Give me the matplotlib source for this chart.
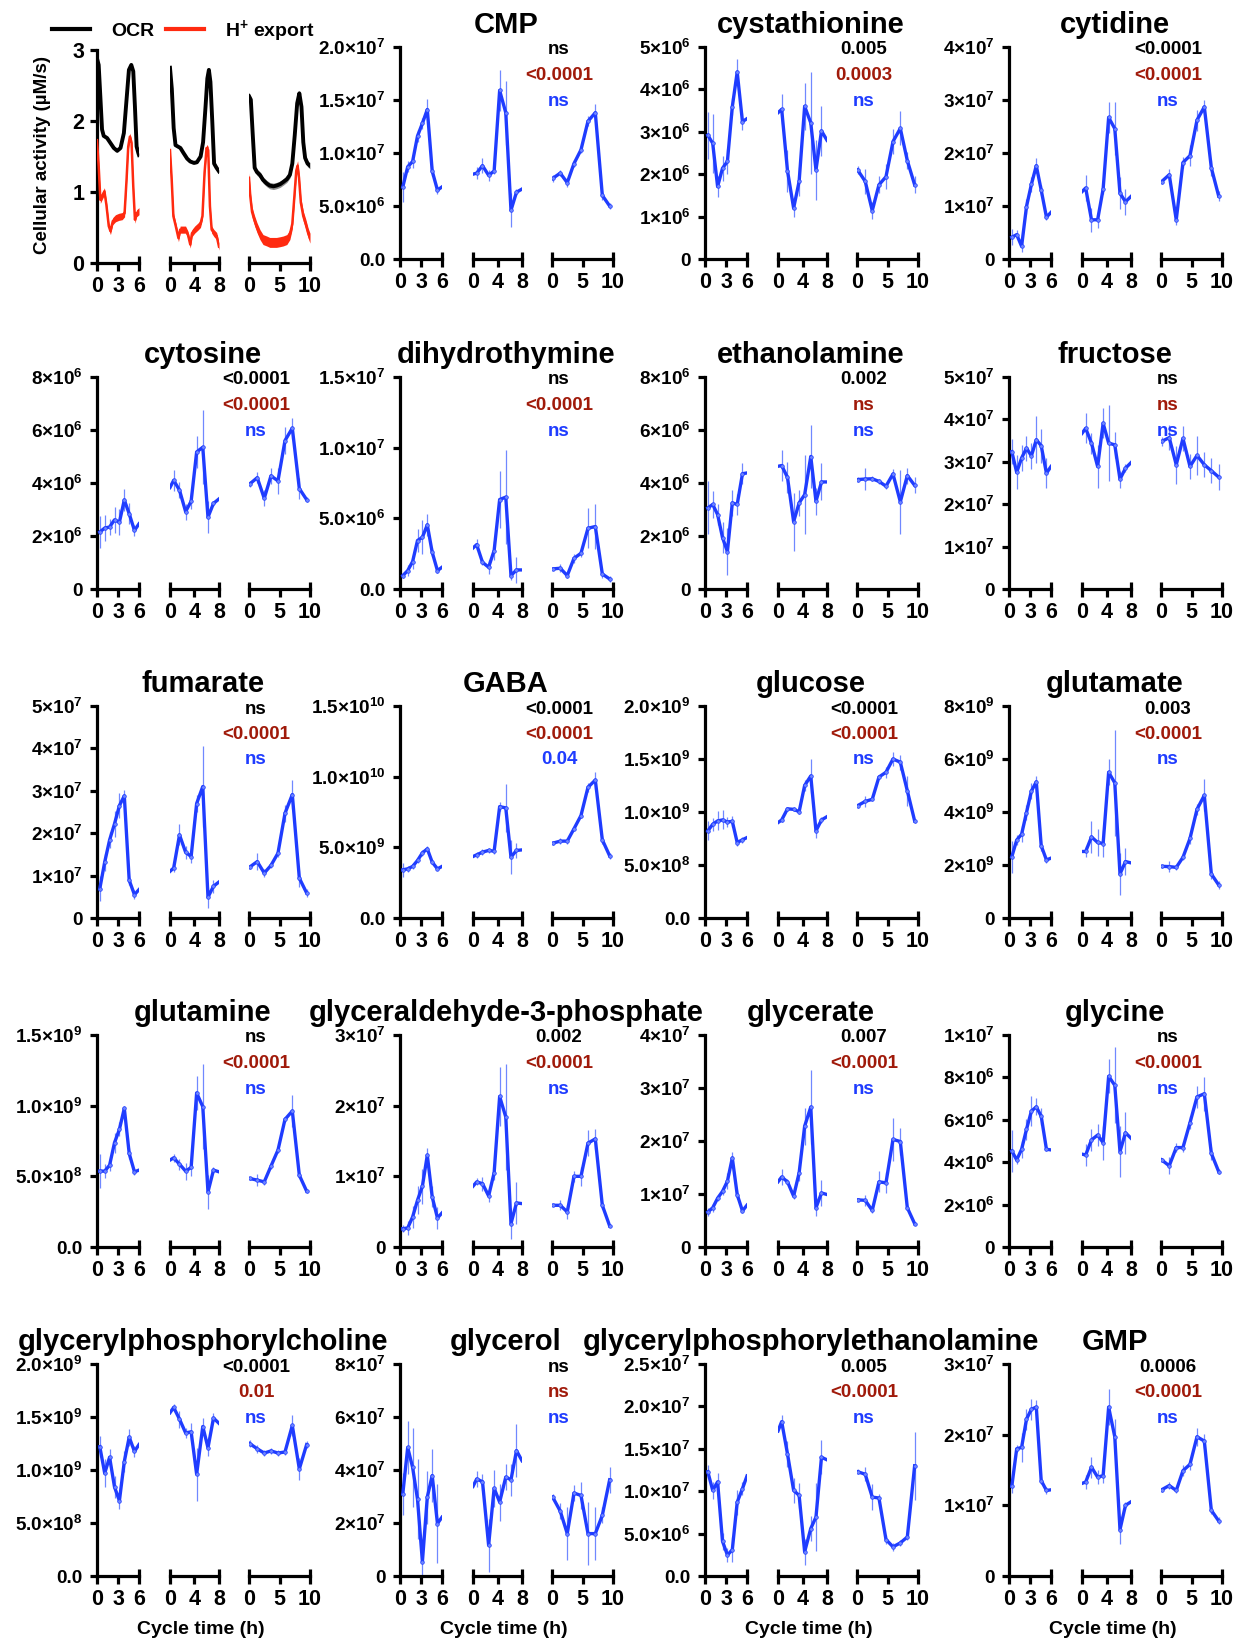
import numpy as np
import matplotlib
matplotlib.use('Agg')
import matplotlib.pyplot as plt
from matplotlib.lines import Line2D
from matplotlib.ticker import FixedLocator

plt.rcParams['font.family'] = ['Liberation Sans', 'DejaVu Sans']
plt.rcParams['font.weight'] = 'bold'
plt.rcParams['mathtext.fontset'] = 'custom'
plt.rcParams['mathtext.rm'] = 'Liberation Sans:bold'
plt.rcParams['mathtext.it'] = 'Liberation Sans:bold'
plt.rcParams['mathtext.bf'] = 'Liberation Sans:bold'
plt.rcParams['mathtext.default'] = 'rm'

# ---------------- data ----------------
PERIODS = [6, 8, 10]
# sampling times (h) within each cycle length
T6 = [0.4, 1.1, 1.8, 2.5, 3.2, 3.9, 4.6, 5.35, 6.0]
T8 = [0, 0.6, 1.55, 2.55, 3.45, 4.35, 5.35, 6.2, 7.1, 8.0]
T10 = [0.1, 1.35, 2.5, 3.6, 4.75, 5.9, 7.1, 8.25, 9.45]

# OCR / H+ export traces (uM/s)
OCR_T6 = [0, 0.24, 0.48, 0.72, 0.96, 1.44, 1.92, 2.4, 2.88, 3.36, 3.84, 4.22, 4.56, 4.9, 5.18, 5.42, 5.66, 5.9, 6.0]
OCR_6 = [2.88, 2.79, 2.34, 1.88, 1.79, 1.76, 1.69, 1.62, 1.58, 1.62, 1.83, 2.30, 2.72, 2.79, 2.70, 2.20, 1.64, 1.55, 1.52]
OCR_T8 = [0, 0.3, 0.6, 0.9, 1.3, 1.7, 2.2, 2.8, 3.3, 3.9, 4.4, 5.0, 5.4, 5.8, 6.1, 6.35, 6.6, 6.9, 7.2, 7.6, 8.0]
OCR_8 = [2.75, 2.45, 1.9, 1.66, 1.64, 1.62, 1.55, 1.47, 1.43, 1.41, 1.42, 1.5, 1.7, 2.2, 2.6, 2.72, 2.55, 2.0, 1.4, 1.34, 1.29]
OCR_T10 = [0, 0.3, 0.6, 0.93, 1.3, 1.8, 2.3, 2.9, 3.4, 4.0, 4.5, 5.1, 5.6, 6.2, 6.7, 7.1, 7.5, 7.9, 8.25, 8.6, 8.9, 9.2, 9.6, 10.0]
OCR_10 = [2.35, 2.3, 1.83, 1.34, 1.28, 1.24, 1.17, 1.12, 1.09, 1.08, 1.09, 1.11, 1.14, 1.18, 1.24, 1.4, 1.8, 2.25, 2.39, 2.2, 1.7, 1.48, 1.40, 1.37]
OCR_SEM = [0.02, 0.02, 0.045]

HEX_T6 = [0, 0.24, 0.48, 0.72, 1.06, 1.34, 1.68, 1.92, 2.26, 2.64, 3.12, 3.6, 3.94, 4.22, 4.46, 4.7, 4.94, 5.18, 5.42, 5.66, 6.0]
HEX_6 = [1.73, 1.36, 0.89, 0.94, 1.01, 0.82, 0.52, 0.45, 0.59, 0.63, 0.65, 0.66, 0.70, 1.17, 1.64, 1.78, 1.69, 1.08, 0.61, 0.70, 0.73]
HEX_T8 = [0, 0.28, 0.55, 0.94, 1.38, 1.66, 2.1, 2.54, 2.93, 3.31, 3.59, 4.03, 4.53, 4.97, 5.3, 5.64, 5.97, 6.24, 6.52, 6.8, 7.18, 7.62, 8.0]
HEX_8 = [1.59, 1.17, 0.66, 0.52, 0.35, 0.47, 0.47, 0.47, 0.40, 0.26, 0.42, 0.47, 0.51, 0.55, 0.66, 1.27, 1.62, 1.59, 0.80, 0.47, 0.42, 0.38, 0.23]
HEX_T10 = [0, 0.2, 0.5, 0.9, 1.3, 1.8, 2.3, 2.9, 3.4, 4.0, 4.5, 5.1, 5.6, 6.2, 6.7, 7.1, 7.45, 7.75, 7.97, 8.2, 8.5, 8.9, 9.3, 9.7, 10.0]
HEX_10 = [1.2, 0.95, 0.72, 0.6, 0.5, 0.4, 0.33, 0.31, 0.29, 0.29, 0.29, 0.3, 0.31, 0.33, 0.4, 0.55, 0.95, 1.3, 1.37, 1.2, 0.85, 0.66, 0.55, 0.42, 0.35]
HEX_SPREAD = [0.05, 0.05, 0.07]

# metabolites: mean / sem for the 6 h, 8 h and 10 h cycles (in UNIT)
CMP_M = ([6.8, 8.7, 9.2, 11.6, 12.8, 14.1, 8.3, 6.5, 6.8],
         [8.0, 8.1, 8.8, 7.9, 8.3, 15.9, 13.8, 4.6, 6.3, 6.6],
         [7.6, 8.1, 7.2, 9.0, 10.3, 13.0, 13.8, 6.0, 5.0])
CMP_E = ([1.4, 0.5, 0.6, 0.6, 0.5, 1.0, 0.5, 0.4, 0],
         [0, 0.6, 0.7, 0.5, 0.3, 1.9, 3.0, 1.6, 0.3, 0],
         [0.3, 0.3, 0.4, 0.3, 0.3, 0.5, 0.8, 0.4, 0.3])
CYSTA_M = ([2.92, 2.73, 1.71, 2.14, 2.30, 3.59, 4.41, 3.24, 3.31],
           [3.45, 3.53, 2.08, 1.20, 1.83, 3.60, 3.21, 2.10, 3.02, 2.80],
           [2.10, 1.83, 1.14, 1.75, 1.94, 2.77, 3.08, 2.32, 1.75])
CYSTA_E = ([0.55, 0.7, 0.25, 0.3, 0.3, 0.2, 0.3, 0.2, 0],
           [0, 0.35, 0.5, 0.2, 0.35, 0.55, 1.2, 0.7, 0.6, 0],
           [0.1, 0.3, 0.2, 0.2, 0.3, 0.3, 0.4, 0.2, 0.2])
CYTID_M = ([4.1, 4.6, 2.4, 9.9, 14.1, 17.6, 13.0, 7.9, 8.8],
           [12.7, 13.4, 7.4, 7.4, 13.2, 26.7, 24.6, 12.4, 10.8, 11.8],
           [14.6, 15.9, 7.4, 18.2, 19.5, 26.2, 28.7, 17.2, 11.9])
CYTID_E = ([1.5, 0.8, 1.0, 1.5, 1.4, 1.4, 1.0, 0.6, 0],
           [0, 2.5, 2.3, 1.5, 1.0, 3.0, 5.0, 3.0, 2.5, 0],
           [0.5, 1.0, 1.0, 1.0, 2.0, 2.0, 1.3, 1.5, 1.0])
CYTOS_M = ([2.15, 2.30, 2.34, 2.61, 2.52, 3.36, 2.84, 2.21, 2.46],
           [3.83, 4.10, 3.73, 2.92, 3.31, 5.17, 5.35, 2.71, 3.23, 3.40],
           [3.96, 4.20, 3.42, 4.27, 4.08, 5.60, 6.07, 3.79, 3.37])
CYTOS_E = ([0.6, 0.5, 0.3, 0.5, 0.5, 0.4, 0.4, 0.2, 0],
           [0, 0.4, 0.3, 0.3, 0.3, 0.6, 1.4, 0.6, 0.1, 0],
           [0.1, 0.2, 0.3, 0.3, 0.5, 0.5, 0.4, 0.4, 0.1])
DHT_M = ([0.95, 1.30, 1.94, 3.43, 3.66, 4.54, 2.60, 1.30, 1.54],
         [2.90, 3.14, 1.89, 1.54, 2.72, 6.33, 6.50, 0.95, 1.35, 1.35],
         [1.42, 1.47, 0.95, 2.17, 2.53, 4.30, 4.42, 1.06, 0.71])
DHT_E = ([0.2, 0.4, 0.5, 0.8, 1.2, 0.8, 0.3, 0.2, 0],
         [0, 0.4, 0.2, 0.5, 0.7, 2.0, 3.3, 0.3, 0.9, 0],
         [0.1, 0.3, 0.2, 0.3, 0.3, 1.4, 1.6, 0.3, 0.2])
ETN_M = ([3.06, 3.19, 2.81, 1.94, 1.41, 3.25, 3.19, 4.35, 4.38],
         [4.63, 4.66, 4.21, 2.54, 3.25, 3.56, 5.00, 3.31, 4.04, 4.04],
         [4.13, 4.15, 4.16, 4.06, 3.88, 4.34, 3.29, 4.28, 3.91])
ETN_E = ([1.0, 0.5, 0.4, 0.6, 0.9, 0.5, 0.4, 0.4, 0],
         [0, 0.6, 0.6, 1.1, 0.5, 1.5, 1.2, 0.5, 0.7, 0],
         [0.1, 0.4, 0.1, 0.1, 0.1, 0.2, 1.2, 0.3, 0.3])
FRU_M = ([3.24, 2.75, 3.09, 3.32, 3.14, 3.52, 3.38, 2.73, 2.89],
         [3.67, 3.79, 3.44, 2.89, 3.91, 3.44, 3.40, 2.59, 2.85, 2.98],
         [3.48, 3.57, 2.93, 3.55, 2.89, 3.15, 2.93, 2.79, 2.64])
FRU_E = ([0.3, 0.4, 0.3, 0.3, 0.3, 0.55, 0.4, 0.35, 0],
         [0, 0.35, 0.25, 0.5, 0.35, 0.9, 0.3, 0.2, 0.1, 0],
         [0.1, 0.3, 0.45, 0.3, 0.3, 0.45, 0.3, 0.3, 0.3])
FUM_M = ([0.69, 1.32, 1.84, 2.22, 2.65, 2.88, 0.89, 0.55, 0.67],
         [1.10, 1.18, 1.96, 1.55, 1.45, 2.70, 3.10, 0.49, 0.75, 0.85],
         [1.20, 1.33, 1.06, 1.24, 1.53, 2.47, 2.91, 0.94, 0.59])
FUM_E = ([0.3, 0.2, 0.2, 0.3, 0.3, 0.15, 0.1, 0.1, 0],
         [0, 0.1, 0.25, 0.15, 0.15, 0.2, 0.95, 0.25, 0.15, 0],
         [0.05, 0.2, 0.1, 0.05, 0.1, 0.2, 0.35, 0.2, 0.1])
GABA_M = ([3.41, 3.48, 3.65, 4.07, 4.61, 4.89, 3.95, 3.48, 3.65],
          [4.35, 4.47, 4.66, 4.78, 4.73, 7.88, 7.79, 4.31, 4.78, 4.82],
          [5.29, 5.44, 5.44, 6.31, 7.25, 9.25, 9.76, 5.53, 4.40])
GABA_E = ([0.5, 0.2, 0.2, 0.2, 0.2, 0.2, 0.1, 0.1, 0],
          [0, 0.2, 0.2, 0.2, 0.2, 0.3, 1.7, 1.2, 0.5, 0],
          [0.1, 0.2, 0.2, 0.1, 0.2, 0.3, 0.6, 0.3, 0.2])
GLC_M = ([8.22, 8.84, 9.16, 9.25, 9.06, 9.12, 7.12, 7.38, 7.59],
         [9.0, 9.25, 10.3, 10.25, 10.03, 12.5, 13.4, 8.22, 9.25, 9.56],
         [10.6, 11.0, 11.2, 13.3, 13.75, 15.0, 14.7, 12.0, 9.16])
GLC_E = ([0.9, 0.6, 0.9, 0.9, 0.5, 0.5, 0.3, 0.3, 0],
         [0, 0.2, 0.2, 0.2, 0.2, 0.5, 1.6, 0.7, 0.3, 0],
         [0.2, 0.5, 0.2, 0.2, 0.5, 0.7, 0.7, 1.4, 0.2])
GLU_M = ([2.31, 2.94, 3.16, 3.98, 4.79, 5.14, 2.73, 2.19, 2.26],
         [2.51, 2.51, 3.06, 2.85, 2.81, 5.50, 5.10, 1.66, 2.13, 2.08],
         [1.95, 1.94, 1.91, 2.29, 3.00, 4.10, 4.63, 1.66, 1.25])
GLU_E = ([0.6, 0.2, 0.3, 0.3, 0.3, 0.2, 0.2, 0.1, 0],
         [0, 0.2, 0.6, 0.5, 0.5, 0.5, 2.0, 0.8, 0.5, 0],
         [0.05, 0.2, 0.1, 0.1, 0.2, 0.2, 0.6, 0.2, 0.15])
GLN_M = ([5.37, 5.37, 5.79, 7.38, 8.32, 9.81, 6.62, 5.32, 5.44],
         [6.15, 6.31, 5.86, 5.37, 5.63, 10.9, 9.93, 3.90, 5.44, 5.32],
         [4.85, 4.73, 4.61, 5.72, 6.86, 9.03, 9.62, 5.08, 3.95])
GLN_E = ([1.2, 0.5, 0.4, 0.7, 0.5, 0.2, 0.4, 0.2, 0],
         [0, 0.3, 0.4, 0.6, 0.6, 1.2, 3.0, 1.2, 0.2, 0],
         [0.1, 0.4, 0.2, 0.2, 0.2, 0.2, 1.1, 0.2, 0.1])
G3P_M = ([2.6, 2.69, 4.25, 6.61, 8.6, 13.0, 7.09, 4.11, 4.82],
         [8.6, 9.21, 8.97, 7.23, 10.5, 21.3, 18.4, 3.31, 6.24, 6.14],
         [5.9, 5.9, 4.96, 10.0, 10.0, 14.7, 15.3, 5.9, 2.98])
G3P_E = ([0.5, 1.0, 1.5, 2.0, 2.5, 1.0, 1.5, 1.5, 0],
         [0, 0.5, 1.0, 0.8, 1.0, 4.2, 7.5, 2.2, 3.0, 0],
         [0.1, 0.7, 1.0, 0.8, 1.3, 1.8, 1.4, 0.5, 0.2])
GLYA_M = ([6.6, 7.4, 9.2, 10.5, 12.4, 16.8, 9.9, 6.8, 7.9],
          [12.3, 13.2, 12.3, 9.6, 14.0, 22.8, 26.4, 7.4, 10.2, 9.9],
          [8.9, 8.8, 6.9, 12.3, 12.1, 20.3, 19.9, 7.4, 4.4])
GLYA_E = ([0.8, 0.8, 0.6, 0.6, 1.5, 1.2, 0.8, 0.4, 0],
          [0, 1.5, 0.5, 0.5, 1.5, 3.5, 7.0, 1.5, 2.5, 0],
          [0.3, 1.0, 0.5, 2.0, 2.0, 4.0, 2.5, 0.3, 0.3])
GLY_M = ([4.53, 4.11, 4.61, 5.55, 6.41, 6.61, 6.17, 4.61, 4.58],
         [4.38, 4.34, 5.05, 5.28, 4.92, 8.05, 7.63, 4.50, 5.39, 5.13],
         [4.11, 3.83, 4.69, 4.69, 5.86, 7.08, 7.23, 4.42, 3.56])
GLY_E = ([1.0, 0.2, 0.4, 0.5, 0.7, 0.4, 0.4, 0.1, 0],
         [0, 0.5, 0.5, 0.5, 0.8, 0.8, 1.8, 1.2, 1.0, 0],
         [0.1, 0.4, 0.2, 0.2, 0.3, 0.5, 0.8, 0.3, 0.1])
GPC_M = ([12.2, 9.7, 11.2, 8.4, 7.1, 10.8, 13.1, 11.75, 12.4],
         [15.4, 15.9, 14.8, 13.5, 13.6, 9.6, 14.1, 12.1, 14.9, 14.4],
         [12.5, 12.0, 11.6, 11.8, 11.6, 11.7, 14.2, 10.1, 12.4])
GPC_E = ([1.0, 1.3, 0.8, 1.0, 0.8, 1.0, 0.8, 0.5, 0],
         [0, 0.3, 0.8, 0.5, 0.8, 2.5, 0.8, 0.8, 0.5, 0],
         [0.3, 0.4, 0.3, 0.3, 0.3, 0.3, 1.0, 1.0, 0.3])
GOL_M = ([3.1, 4.85, 4.1, 2.9, 0.54, 2.98, 3.79, 1.98, 2.22],
         [3.38, 3.66, 3.56, 1.16, 3.31, 2.79, 3.73, 3.63, 4.73, 4.35],
         [2.98, 2.45, 1.6, 3.13, 3.04, 1.6, 1.6, 2.29, 3.63])
GOL_E = ([0.8, 1.0, 1.5, 1.5, 0.6, 1.0, 1.0, 1.5, 0],
         [0, 0.3, 0.3, 1.0, 0.7, 0.7, 0.5, 0.6, 1.0, 0],
         [0.1, 0.3, 1.0, 0.3, 0.5, 1.2, 1.0, 0.3, 0.5])
GPE_M = ([12.3, 10.1, 11.1, 4.1, 2.46, 3.1, 8.7, 10.3, 11.8],
         [17.1, 18.2, 14.4, 10.1, 9.5, 2.85, 5.6, 6.95, 14.0, 13.7],
         [12.3, 12.0, 9.3, 9.2, 4.3, 3.44, 3.9, 4.6, 13.0])
GPE_E = ([0.8, 1.0, 1.0, 1.0, 0.8, 1.5, 1.5, 0.8, 0],
         [0, 0.8, 1.5, 1.5, 1.5, 1.5, 1.5, 4.0, 2.0, 0],
         [0.3, 0.8, 1.5, 0.5, 0.5, 0.5, 0.4, 0.4, 4.0])
GMP_M = ([12.7, 18.0, 18.2, 22.2, 23.6, 23.9, 13.5, 12.1, 12.2],
         [13.1, 13.3, 15.4, 14.0, 14.2, 23.9, 19.7, 6.56, 10.0, 10.5],
         [12.2, 12.8, 12.1, 14.9, 15.8, 19.7, 19.1, 9.3, 7.8])
GMP_E = ([1.0, 0.5, 2.0, 1.5, 1.5, 1.0, 0.5, 0.5, 0],
         [0, 1.0, 1.5, 1.0, 1.0, 2.5, 2.5, 2.0, 0.5, 0],
         [0.3, 0.5, 0.3, 0.8, 0.8, 1.3, 1.0, 0.5, 0.5])

NAMES = ['CMP', 'cystathionine', 'cytidine', 'cytosine', 'dihydrothymine', 'ethanolamine',
         'fructose', 'fumarate', 'GABA', 'glucose', 'glutamate', 'glutamine',
         'glyceraldehyde-3-phosphate', 'glycerate', 'glycine', 'glycerylphosphorylcholine',
         'glycerol', 'glycerylphosphorylethanolamine', 'GMP']
UNITS = [1e6, 1e6, 1e6, 1e6, 1e6, 1e6, 1e7, 1e7, 1e9, 1e8, 1e9, 1e8,
         1e6, 1e6, 1e6, 1e8, 1e7, 1e6, 1e6]
MEANS = [CMP_M, CYSTA_M, CYTID_M, CYTOS_M, DHT_M, ETN_M, FRU_M, FUM_M, GABA_M, GLC_M,
         GLU_M, GLN_M, G3P_M, GLYA_M, GLY_M, GPC_M, GOL_M, GPE_M, GMP_M]
SEMS = [CMP_E, CYSTA_E, CYTID_E, CYTOS_E, DHT_E, ETN_E, FRU_E, FUM_E, GABA_E, GLC_E,
        GLU_E, GLN_E, G3P_E, GLYA_E, GLY_E, GPC_E, GOL_E, GPE_E, GMP_E]
Y_TOP = [2.0e7, 5e6, 4e7, 8e6, 1.5e7, 8e6, 5e7, 5e7, 1.5e10, 2.0e9, 8e9, 1.5e9,
         3e7, 4e7, 1e7, 2.0e9, 8e7, 2.5e7, 3e7]
Y_STEP = [5e6, 1e6, 1e7, 2e6, 5e6, 2e6, 1e7, 1e7, 5e9, 5e8, 2e9, 5e8,
          1e7, 1e7, 2e6, 5e8, 2e7, 5e6, 1e7]
Y_DEC = [1, 0, 0, 0, 1, 0, 0, 0, 1, 1, 0, 1, 0, 0, 0, 1, 0, 1, 0]
P_OCR = ['ns', '0.005', '<0.0001', '<0.0001', 'ns', '0.002', 'ns', 'ns', '<0.0001', '<0.0001',
         '0.003', 'ns', '0.002', '0.007', 'ns', '<0.0001', 'ns', '0.005', '0.0006']
P_HEX = ['<0.0001', '0.0003', '<0.0001', '<0.0001', '<0.0001', 'ns', 'ns', '<0.0001', '<0.0001',
         '<0.0001', '<0.0001', '<0.0001', '<0.0001', '<0.0001', '<0.0001', '0.01', 'ns',
         '<0.0001', '<0.0001']
P_MET = ['ns', 'ns', 'ns', 'ns', 'ns', 'ns', 'ns', 'ns', '0.04', 'ns',
         'ns', 'ns', 'ns', 'ns', 'ns', 'ns', 'ns', 'ns', 'ns']

# ---------------- layout ----------------
W, H = 1237, 1642
fig = plt.figure(figsize=(W / 100, H / 100), dpi=100)

COL_X = [97, 400, 705, 1009]
ROW_BOTTOM = [259, 589, 918, 1247, 1576]
AX_H = 212
SEG_L = [0, 73, 152]
SEG_R = [42, 122, 213]
LW = 2.3
BLUE = '#1f3cff'
P_COLORS = ['black', '#a01a0a', BLUE]
MARKED = [slice(0, -1), slice(1, -1), slice(None)]
TIMES = [T6, T8, T10]


def add_ax(left, right, top, bottom):
    return fig.add_axes([left / W, 1 - bottom / H, (right - left) / W, (bottom - top) / H])


def sci(v, dec):
    if v == 0:
        return '0.0' if dec else '0'
    e = int(np.floor(np.log10(v) + 1e-9))
    return f'{v / 10 ** e:.{dec}f}×$10^{{{e}}}$'


def style_segment(ax, k):
    p = PERIODS[k]
    ax.set_facecolor('none')
    ax.spines['top'].set_visible(False)
    ax.spines['right'].set_visible(False)
    ax.spines['left'].set_visible(k == 0)
    ax.spines['left'].set_linewidth(LW)
    ax.spines['bottom'].set_linewidth(LW)
    ax.set_xlim(0, p)
    ax.set_xticks([0, p / 2, p])
    ax.set_xticklabels([str(int(v)) for v in [0, p / 2, p]])
    ax.xaxis.remove_overlapping_locs = False
    ax.xaxis.set_minor_locator(FixedLocator([p] if k == 0 else [0, p]))
    ax.tick_params(axis='x', which='major', direction='out', length=5.5, width=LW,
                   labelsize=15.5, pad=4)
    ax.tick_params(axis='x', which='minor', direction='in', length=5, width=LW)
    if k == 0:
        ax.tick_params(axis='y', direction='out', length=5, width=LW, pad=5.5)
    else:
        ax.tick_params(axis='y', left=False, labelleft=False)


# ---- OCR / H+ export panel ----
OCR_T = [OCR_T6, OCR_T8, OCR_T10]
OCR_V = [OCR_6, OCR_8, OCR_10]
HEX_T = [HEX_T6, HEX_T8, HEX_T10]
HEX_V = [HEX_6, HEX_8, HEX_10]
for k in range(3):
    ax = add_ax(97 + SEG_L[k], 97 + SEG_R[k], 50, 263)
    style_segment(ax, k)
    ax.set_ylim(0, 3)
    ht, hv = np.array(HEX_T[k]), np.array(HEX_V[k])
    ax.fill_between(ht, hv - HEX_SPREAD[k], hv + HEX_SPREAD[k], color='#ff2a10', lw=0, zorder=2)
    ax.plot(ht, hv, color='#ff2a10', lw=1.8, zorder=3)
    ot, ov = np.array(OCR_T[k]), np.array(OCR_V[k])
    ax.fill_between(ot, ov - OCR_SEM[k], ov + OCR_SEM[k], color='#8c8c8c', lw=0, zorder=4)
    ax.plot(ot, ov, color='black', lw=2.8, zorder=5)
    if k == 0:
        ax.set_yticks([0, 1, 2, 3])
        ax.tick_params(axis='y', labelsize=15.5, pad=4)

fig.text(43 / W, 1 - 155 / H, 'Cellular activity (µM/s)', rotation=90,
         ha='center', va='center', fontsize=13.5)
handles = [Line2D([], [], color='black', lw=3), Line2D([], [], color='#ff2a10', lw=3)]
fig.legend(handles, ['OCR', 'H$^{+}$ export'], loc='center left',
           bbox_to_anchor=(52 / W, 1 - 31 / H), ncol=2, frameon=False, fontsize=14,
           handlelength=1.95, handletextpad=1.1, columnspacing=0.6,
           borderaxespad=0, borderpad=0)

# ---- metabolite panels ----
for i, name in enumerate(NAMES):
    c, r = (i + 1) % 4, (i + 1) // 4
    x0 = COL_X[c]
    bottom = ROW_BOTTOM[r]
    top = bottom - AX_H
    for k in range(3):
        ax = add_ax(x0 + SEG_L[k], x0 + SEG_R[k], top, bottom)
        style_segment(ax, k)
        ax.set_ylim(0, Y_TOP[i])
        t = np.array(TIMES[k])
        m = np.array(MEANS[i][k]) * UNITS[i]
        e = np.array(SEMS[i][k]) * UNITS[i]
        ax.vlines(t, m - e, m + e, color='#7088ff', lw=0.9, zorder=2)
        ax.plot(t, m, color=BLUE, lw=2.4, zorder=3, solid_joinstyle='round')
        ax.plot(t[MARKED[k]], m[MARKED[k]], 'o', ms=2.6, mfc='#6f86ff', mec=BLUE,
                mew=0.5, zorder=4)
        if k == 0:
            ticks = np.arange(0, Y_TOP[i] + Y_STEP[i] / 2, Y_STEP[i])
            ax.set_yticks(ticks)
            ax.set_yticklabels([sci(v, Y_DEC[i]) for v in ticks])
            ax.tick_params(axis='y', labelsize=13.6)
    fig.text((x0 + 106) / W, 1 - (top - 22) / H, name, ha='center', va='center',
             fontsize=21)
    for j, p in enumerate([P_OCR[i], P_HEX[i], P_MET[i]]):
        fig.text((x0 + 159) / W, 1 - (top + 3 + 25.5 * j) / H, p, ha='center',
                 va='center', fontsize=13.5, color=P_COLORS[j])
    if r == 4:
        fig.text((x0 + 104) / W, 1 - (bottom + 53) / H, 'Cycle time (h)',
                 ha='center', va='center', fontsize=14)

fig.savefig('out.png', dpi=100)
